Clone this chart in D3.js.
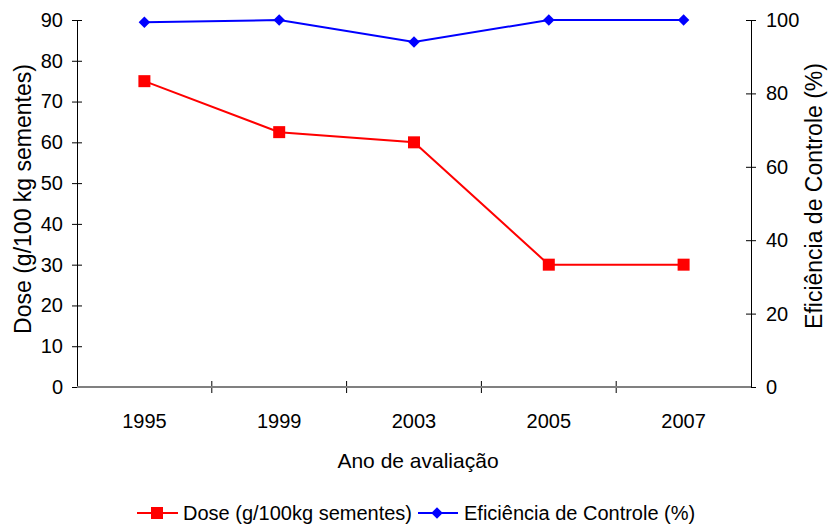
<!DOCTYPE html>
<html>
<head>
<meta charset="utf-8">
<script src="https://cdn.jsdelivr.net/npm/d3@7"></script>
<style>
  body { margin: 0; background: #fff; }
  text { font-family: "Liberation Sans", Arial, sans-serif; fill: #000; }
</style>
</head>
<body>
<div id="chart"></div>
<script>
var years = ["1995", "1999", "2003", "2005", "2007"];
var dose = [75, 62.5, 60, 30, 30];
var eficiencia = [99.4, 100, 94, 100, 100];
var leftTicks = [0, 10, 20, 30, 40, 50, 60, 70, 80, 90];
var rightTicks = [0, 20, 40, 60, 80, 100];

var svgWidth = 829;
var svgHeight = 525;

var margin = { top: 20, right: 78, bottom: 138, left: 77 };
var width = svgWidth - margin.left - margin.right;
var height = svgHeight - margin.top - margin.bottom;

var svg = d3.select("#chart")
  .append("svg")
  .attr("width", svgWidth)
  .attr("height", svgHeight);

var chartGroup = svg.append("g")
  .attr("transform", `translate(${margin.left}, ${margin.top})`);

// scales
var xBand = d3.scaleBand().domain(years).range([0, width]).padding(0);
var yLeft = d3.scaleLinear().domain([0, 90]).range([height, 0]);
var yRight = d3.scaleLinear().domain([0, 100]).range([height, 0]);

var fontSize = "20px";

// left axis
var leftAxis = d3.axisLeft(yLeft).tickValues(leftTicks).tickSizeInner(5).tickSizeOuter(0);
var gl = chartGroup.append("g").call(leftAxis);
gl.select(".domain").attr("stroke", "#000");
gl.selectAll(".tick line").attr("x2", 5).attr("x1", -5).attr("stroke", "#000");
gl.selectAll(".tick text").style("font-size", fontSize).attr("x", -14);

// right axis
var rightAxis = d3.axisRight(yRight).tickValues(rightTicks).tickSizeInner(5).tickSizeOuter(0);
var gr = chartGroup.append("g").attr("transform", `translate(${width}, 0)`).call(rightAxis);
gr.select(".domain").attr("stroke", "#000");
gr.selectAll(".tick line").attr("x1", -5).attr("x2", 5).attr("stroke", "#000");
gr.selectAll(".tick text").style("font-size", fontSize).attr("x", 15);

// bottom axis: labels centred in bands, ticks at band boundaries
var bottomAxis = d3.axisBottom(xBand).tickSize(0).tickPadding(27);
var gb = chartGroup.append("g").attr("transform", `translate(0, ${height})`).call(bottomAxis);
gb.select(".domain").remove();
gb.selectAll(".tick text").style("font-size", fontSize);

var bounds = years.map(d => xBand(d)).concat([xBand.range()[1]]);
chartGroup.selectAll(".sep")
  .data(bounds.slice(1, -1))
  .enter()
  .append("line")
  .attr("x1", d => d).attr("x2", d => d)
  .attr("y1", height - 6).attr("y2", height + 6)
  .attr("stroke", "#000");

chartGroup.append("line")
  .attr("x1", 0).attr("x2", width)
  .attr("y1", height).attr("y2", height)
  .attr("stroke", "#808080")
  .attr("stroke-width", 2);

// series lines
var cx = (d, i) => xBand(years[i]) + xBand.bandwidth() / 2;

var doseLine = d3.line().x((d, i) => cx(d, i)).y(d => yLeft(d));
var efLine = d3.line().x((d, i) => cx(d, i)).y(d => yRight(d));

chartGroup.append("path")
  .datum(eficiencia)
  .attr("d", efLine)
  .attr("fill", "none")
  .attr("stroke", "#0000ff")
  .attr("stroke-width", 2);

chartGroup.append("path")
  .datum(dose)
  .attr("d", doseLine)
  .attr("fill", "none")
  .attr("stroke", "#ff0000")
  .attr("stroke-width", 2);

// markers
chartGroup.selectAll(".dosePt")
  .data(dose)
  .enter()
  .append("rect")
  .attr("x", (d, i) => cx(d, i) - 6)
  .attr("y", d => yLeft(d) - 6)
  .attr("width", 12)
  .attr("height", 12)
  .attr("fill", "#ff0000");

var diamond = d3.symbol().type(d3.symbolDiamond2).size(84);
chartGroup.selectAll(".efPt")
  .data(eficiencia)
  .enter()
  .append("path")
  .attr("d", diamond)
  .attr("transform", (d, i) => `translate(${cx(d, i)}, ${yRight(d)})`)
  .attr("fill", "#0000ff");

// axis titles
svg.append("text")
  .attr("x", 418)
  .attr("y", 468)
  .attr("text-anchor", "middle")
  .style("font-size", "21px")
  .text("Ano de avaliação");

svg.append("text")
  .attr("transform", "translate(31, 199) rotate(-90)")
  .attr("text-anchor", "middle")
  .style("font-size", "23px")
  .text("Dose (g/100 kg sementes)");

svg.append("text")
  .attr("transform", "translate(822, 196) rotate(-90)")
  .attr("text-anchor", "middle")
  .style("font-size", "23px")
  .text("Eficiência de Controle (%)");

// legend
var legend = svg.append("g").attr("transform", "translate(0, 513)");
legend.append("line").attr("x1", 137).attr("x2", 178).attr("y1", 0).attr("y2", 0)
  .attr("stroke", "#ff0000").attr("stroke-width", 2);
legend.append("rect").attr("x", 151).attr("y", -6).attr("width", 12).attr("height", 12).attr("fill", "#ff0000");
legend.append("text").attr("x", 183).attr("y", 7).style("font-size", fontSize)
  .text("Dose (g/100kg sementes)");

legend.append("line").attr("x1", 418).attr("x2", 458).attr("y1", 0).attr("y2", 0)
  .attr("stroke", "#0000ff").attr("stroke-width", 2);
legend.append("path").attr("d", diamond).attr("transform", "translate(437, 0)").attr("fill", "#0000ff");
legend.append("text").attr("x", 464).attr("y", 7).style("font-size", fontSize)
  .text("Eficiência de Controle (%)");
</script>
</body>
</html>
